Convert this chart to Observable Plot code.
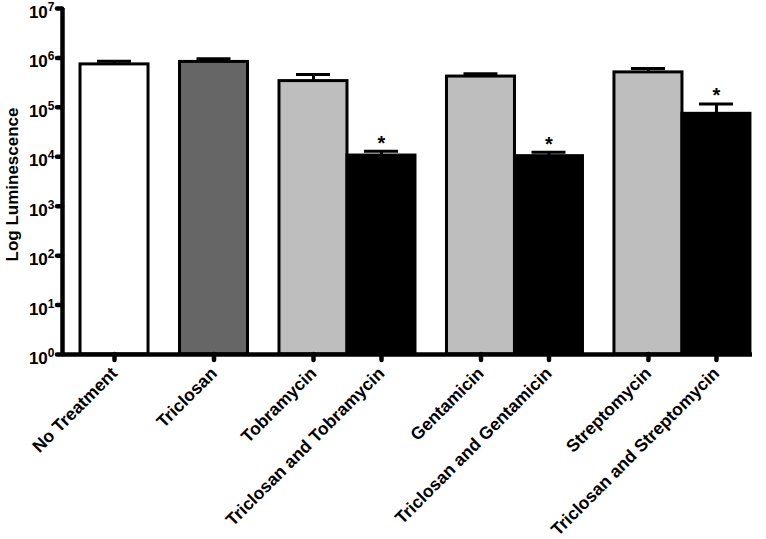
<!DOCTYPE html>
<html><head><meta charset="utf-8">
<script src="https://cdn.jsdelivr.net/npm/d3@7"></script>
<script src="https://cdn.jsdelivr.net/npm/@observablehq/plot@0.6"></script>
<style>
  html, body { margin: 0; padding: 0; background: #fff; }
  svg { display: block; }
</style>
</head><body><div id="chart"></div>
<script>
// ---- data ----
const categories = ["No Treatment", "Triclosan", "Tobramycin", "Triclosan and Tobramycin",
  "Gentamicin", "Triclosan and Gentamicin", "Streptomycin", "Triclosan and Streptomycin"];
const groupIds = [1, 2, 3, 3, 4, 4, 5, 5];
const treatmentType = ["None", "Triclosan", "Antibiotic", "Combination",
  "Antibiotic", "Combination", "Antibiotic", "Combination"];
const means = [7.4e5, 8.3e5, 3.4e5, 1.06e4, 4.2e5, 1.03e4, 5.1e5, 7.4e4];
const sems = [1.2e5, 1.3e5, 1.2e5, 2.4e3, 0.6e5, 2.1e3, 1.0e5, 4.3e4];
const significant = [false, false, false, true, false, true, false, true];
const yTicks = [1, 10, 100, 1e3, 1e4, 1e5, 1e6, 1e7];

// ---- styles ----
const typeDomain = ["None", "Triclosan", "Antibiotic", "Combination"];
const typeColors = ["#ffffff", "#666666", "#bebebe", "#000000"];
const font = "'Liberation Sans', Arial, Helvetica, sans-serif";

// ---- layout (bar slots in band units) ----
const barW = 1, gapW = 0.463, leftPad = 0.265, rightPad = 0.03;
let pos = leftPad;
const data = categories.map((name, i) => {
  if (i > 0 && groupIds[i] !== groupIds[i - 1]) pos += gapW;
  const x1 = pos, x2 = pos + barW;
  pos = x2;
  return {name, type: treatmentType[i], mean: means[i], upper: means[i] + sems[i],
    sig: significant[i], x1, x2, xc: (x1 + x2) / 2};
});
const total = pos + rightPad;
const nameAt = new Map(data.map(d => [d.xc, d.name]));

const chart = Plot.plot({
  width: 766,
  height: 539,
  marginLeft: 62,
  marginRight: 14,
  marginTop: 8,
  marginBottom: 185,
  style: {fontFamily: font, background: "#fff", color: "#000"},
  x: {domain: [0, total], axis: null},
  y: {type: "log", domain: [1, 1e7], axis: null},
  color: {domain: typeDomain, range: typeColors},
  marks: [
    Plot.rectY(data, {x1: "x1", x2: "x2", y1: 1, y2: "mean", fill: "type",
      stroke: "#000", strokeWidth: 3}),
    Plot.ruleX(data, {x: "xc", y1: "mean", y2: "upper", stroke: "#000", strokeWidth: 3}),
    Plot.ruleY(data, {y: "upper", x1: d => d.xc - 0.25, x2: d => d.xc + 0.25,
      stroke: "#000", strokeWidth: 3}),
    Plot.text(data.filter(d => d.sig), {x: "xc", y: "upper", text: () => "*",
      dy: -8, fontSize: 20, fontWeight: "bold", fill: "#000"}),
    Plot.axisY({ticks: yTicks, tickSize: 5, tickPadding: 3, strokeWidth: 4.5,
      strokeLinecap: "round", fontSize: 17, fontWeight: "bold",
      tickFormat: d => "10^" + Math.round(Math.log10(d)), label: null}),
    Plot.axisX({ticks: data.map(d => d.xc), tickFormat: d => nameAt.get(d),
      tickRotate: -45, tickSize: 6, tickPadding: 10, strokeWidth: 4.5,
      strokeLinecap: "round", fontSize: 17.5, fontWeight: "bold", label: null}),
    Plot.ruleX([0], {y1: 1, y2: 1e7, stroke: "#000", strokeWidth: 4.5}),
    Plot.ruleY([1], {x1: 0, x2: total, stroke: "#000", strokeWidth: 4.5}),
    Plot.text(["Log Luminescence"], {frameAnchor: "left", textAnchor: "middle",
      text: d => d, rotate: -90, dx: -50, dy: 3, fontSize: 17, fontWeight: "bold", fill: "#000"})
  ]
});

// superscript exponents on the y tick labels
chart.querySelectorAll('g[aria-label="y-axis tick label"] text').forEach(t => {
  const m = /^10\^(\d+)$/.exec(t.textContent.trim());
  if (!m) return;
  t.textContent = "";
  const base = document.createElementNS("http://www.w3.org/2000/svg", "tspan");
  base.textContent = "10";
  base.setAttribute("dy", "4");
  const sup = document.createElementNS("http://www.w3.org/2000/svg", "tspan");
  sup.textContent = m[1];
  sup.setAttribute("dy", "-7");
  sup.setAttribute("font-size", "12");
  t.appendChild(base);
  t.appendChild(sup);
});

document.getElementById("chart").appendChild(chart);
</script>
</body></html>
